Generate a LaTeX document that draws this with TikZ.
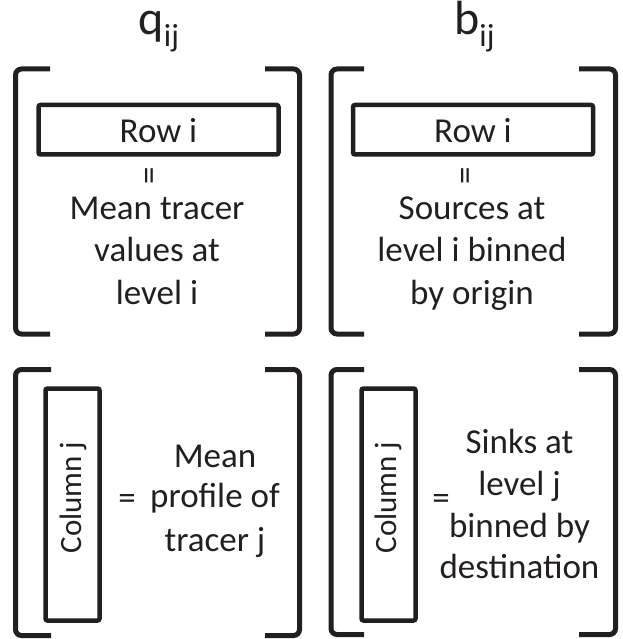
\documentclass[tikz,border=0pt]{standalone}
\usepackage{fontspec}
\setmainfont{Carlito}
\definecolor{ink}{RGB}{35,31,32}
\begin{document}
\begin{tikzpicture}[x=1pt,y=-1pt,
  brk/.style={draw=ink, line width=5pt, rounded corners=6pt},
  cell/.style={draw=ink, line width=4.5pt, rounded corners=2pt, inner sep=0pt, text=ink,
    font=\fontsize{35}{42}\selectfont},
  txt/.style={font=\fontsize{35}{42}\selectfont, text=ink, inner sep=0pt, anchor=base},
  coltxt/.style={font=\fontsize{31}{37}\selectfont, text=ink, inner sep=0pt, anchor=base, rotate=90},
  eqsign/.style={font=\fontsize{35}{42}\selectfont, text=ink, inner sep=0pt, anchor=center},
  title/.style={font=\fontsize{48}{56}\selectfont, text=ink, inner sep=0pt, anchor=base west}]
\useasboundingbox (0,0) rectangle (622,639);

% titles
\node[title] (tq) at (138.5,35) {q\raisebox{-12pt}{\fontsize{32}{38}\selectfont ij}};
\node[title] (tb) at (454,35) {b\raisebox{-12pt}{\fontsize{32}{38}\selectfont ij}};

% brackets, top row
\draw[brk] (50,69) -- (15.5,69) -- (15.5,334) -- (50,334);
\draw[brk] (265,69) -- (299.5,69) -- (299.5,334) -- (265,334);
\draw[brk] (364,69) -- (331,69) -- (331,334) -- (364,334);
\draw[brk] (579,69) -- (615.5,69) -- (615.5,334) -- (579,334);

% brackets, bottom row
\draw[brk] (51,369.5) -- (15.5,369.5) -- (15.5,635.5) -- (51,635.5);
\draw[brk] (265,369.5) -- (299.5,369.5) -- (299.5,635.5) -- (265,635.5);
\draw[brk] (364,369.5) -- (331,369.5) -- (331,634.5) -- (364,634.5);
\draw[brk] (579,369.5) -- (615.5,369.5) -- (615.5,634.5) -- (579,634.5);

% row boxes
\node[cell, minimum width=240pt, minimum height=49.5pt, text height=26.5pt, text depth=0pt] (rowq) at (158.5,129.75) {Row i};
\node[cell, minimum width=240pt, minimum height=49.5pt, text height=26.5pt, text depth=0pt] (rowb) at (473,129.75) {Row i};

% rotated equals
\node[eqsign, rotate=90] (eq1) at (153,176) {=};
\node[eqsign, rotate=90] (eq2) at (468.5,176) {=};

% top-left text
\node[txt] (ql1) at (157,219) {Mean tracer};
\node[txt] (ql2) at (157,261) {values at};
\node[txt] (ql3) at (157,304) {level i};

% top-right text
\node[txt] (bl1) at (472,219) {Sources at};
\node[txt] (bl2) at (472,261) {level i binned};
\node[txt] (bl3) at (472,304) {by origin};

% column boxes
\node[cell, minimum width=54pt, minimum height=232pt] (colq) at (72.5,504.5) {};
\node[cell, minimum width=54pt, minimum height=232pt] (colb) at (388.5,504.5) {};
\node[coltxt] (colqt) at (81,497.5) {Column j};
\node[coltxt] (colbt) at (396,497.5) {Column j};

% bottom-left text
\node[eqsign] (eq3) at (127,502) {=};
\node[txt] (ml1) at (215,467) {Mean};
\node[txt] (ml2) at (215,507) {profile of};
\node[txt] (ml3) at (215,551) {tracer j};

% bottom-right text
\node[eqsign] (eq4) at (441,502) {=};
\node[txt] (sl1) at (519.5,453) {Sinks at};
\node[txt] (sl2) at (519.5,495) {level j};
\node[txt] (sl3) at (519.5,537) {binned by};
\node[txt] (sl4) at (519.5,578) {destination};
\end{tikzpicture}
\end{document}
